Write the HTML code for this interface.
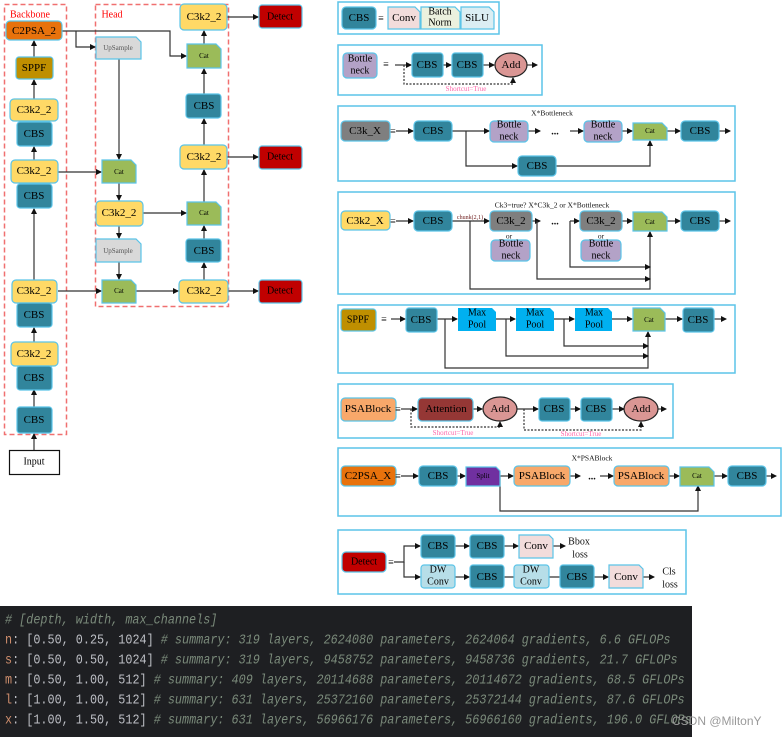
<!DOCTYPE html>
<html><head><meta charset="utf-8"><style>
html,body{margin:0;padding:0;background:#fff;width:782px;height:737px;overflow:hidden;position:relative}
svg{position:absolute;left:0;top:0}
svg text{font-family:"Liberation Serif",serif;text-anchor:middle;dominant-baseline:central}
.code{position:absolute;left:0;top:606px;width:692px;height:131px;background:#1e1f22;font-family:"Liberation Mono",monospace;font-size:11.8px;color:#bcbec4;white-space:pre}
.code div{position:absolute;left:5px;transform:scaleY(1.2);transform-origin:left center}
.c{color:#7a8a7a;font-style:italic}.k{color:#cf8e6d}
.wm{position:absolute;left:672px;top:714px;font-family:"Liberation Sans",sans-serif;font-size:12px;color:#9a9a9a}
</style></head><body>
<svg width="782" height="737" viewBox="0 0 782 737">
<defs><marker id="a" markerWidth="6" markerHeight="6" refX="5" refY="3" orient="auto" markerUnits="userSpaceOnUse"><path d="M0,0L6,3L0,6z" fill="#111"/></marker></defs>
<g fill="none" stroke-width="1.5" stroke-dasharray="5,3" stroke="#f07070">
<rect x="4.5" y="4.5" width="62" height="430"/><rect x="95.5" y="4.5" width="133" height="302"/></g>
<text x="30" y="15" fill="#f00" font-size="10">Backbone</text><text x="112" y="15" fill="#f00" font-size="10">Head</text>
<g stroke="#333" stroke-width="1.2" fill="none" marker-end="url(#a)">
<path d="M34,450V434"/><path d="M34,407V390"/><path d="M34,342V328"/><path d="M34,280V209"/><path d="M34,160V147"/><path d="M34,99V80"/><path d="M34,57V41"/>
<path d="M62,31H170V56H186"/><path d="M76,31V47H95"/><path d="M119,59V159"/><path d="M58,172H101"/><path d="M119,183V200"/><path d="M143,213H186"/><path d="M119,226V238"/><path d="M119,262V279"/><path d="M58,291H101"/><path d="M136,291H178"/>
<path d="M204,280V263"/><path d="M204,239V226"/><path d="M204,202V170"/><path d="M204,145V119"/><path d="M204,94V69"/><path d="M204,44V31"/>
<path d="M227,17H258"/><path d="M227,157H258"/><path d="M228,291H258"/>
</g>
<g stroke="#5bc4e8" stroke-width="1.2" font-size="11">
<rect x="6" y="21" width="56" height="19" rx="4" fill="#e8720c"/><text x="34" y="31" stroke="none">C2PSA_2</text>
<rect x="16" y="57" width="37" height="22" rx="3" fill="#bf8f00"/><text x="34" y="68" stroke="none">SPPF</text>
<rect x="10" y="99" width="48" height="22" rx="4" fill="#ffd966"/><text x="34" y="110" stroke="none">C3k2_2</text>
<rect x="17" y="122" width="35" height="24" rx="3" fill="#31859c"/><text x="34" y="134" stroke="none">CBS</text>
<rect x="11" y="160" width="47" height="23" rx="4" fill="#ffd966"/><text x="34" y="171" stroke="none">C3k2_2</text>
<rect x="17" y="184" width="35" height="24" rx="3" fill="#31859c"/><text x="34" y="196" stroke="none">CBS</text>
<rect x="12" y="280" width="45" height="23" rx="4" fill="#ffd966"/><text x="34" y="291" stroke="none">C3k2_2</text>
<rect x="17" y="303" width="35" height="24" rx="3" fill="#31859c"/><text x="34" y="315" stroke="none">CBS</text>
<rect x="11" y="342" width="47" height="24" rx="4" fill="#ffd966"/><text x="34" y="354" stroke="none">C3k2_2</text>
<rect x="17" y="366" width="35" height="24" rx="3" fill="#31859c"/><text x="34" y="378" stroke="none">CBS</text>
<rect x="17" y="407" width="35" height="26" rx="3" fill="#31859c"/><text x="34" y="420" stroke="none">CBS</text>
<rect x="9.5" y="450.5" width="50" height="24" fill="#fff" stroke="#111"/><text x="34" y="462" stroke="none" font-size="10">Input</text>
<polygon points="96,37 136,37 141,42 141,59 96,59" fill="#d9d9d9"/><text x="118" y="48" stroke="none" font-size="7" fill="#555">UpSample</text>
<polygon points="102,160 131,160 136,165 136,183 102,183" fill="#9bbb59"/><text x="119" y="172" stroke="none" font-size="7">Cat</text>
<rect x="96" y="201" width="47" height="25" rx="4" fill="#ffd966"/><text x="119" y="213" stroke="none">C3k2_2</text>
<polygon points="96,239 136,239 141,244 141,262 96,262" fill="#d9d9d9"/><text x="118" y="251" stroke="none" font-size="7" fill="#555">UpSample</text>
<polygon points="102,280 131,280 136,285 136,303 102,303" fill="#9bbb59"/><text x="119" y="291" stroke="none" font-size="7">Cat</text>
<rect x="179" y="280" width="49" height="23" rx="4" fill="#ffd966"/><text x="204" y="291" stroke="none">C3k2_2</text>
<rect x="186" y="239" width="35" height="23" rx="3" fill="#31859c"/><text x="204" y="251" stroke="none">CBS</text>
<polygon points="187,202 216,202 221,207 221,225 187,225" fill="#9bbb59"/><text x="204" y="213" stroke="none" font-size="7">Cat</text>
<rect x="180" y="145" width="47" height="24" rx="4" fill="#ffd966"/><text x="204" y="157" stroke="none">C3k2_2</text>
<rect x="186" y="94" width="35" height="24" rx="3" fill="#31859c"/><text x="204" y="106" stroke="none">CBS</text>
<polygon points="187,44 216,44 221,49 221,68 187,68" fill="#9bbb59"/><text x="204" y="56" stroke="none" font-size="7">Cat</text>
<rect x="180" y="4" width="47" height="26" rx="4" fill="#ffd966"/><text x="204" y="17" stroke="none">C3k2_2</text>
<rect x="259" y="5" width="43" height="23" rx="3" fill="#c00000"/><text x="280" y="17" stroke="none" font-size="10">Detect</text>
<rect x="259" y="146" width="43" height="23" rx="3" fill="#c00000"/><text x="280" y="157" stroke="none" font-size="10">Detect</text>
<rect x="259" y="280" width="43" height="23" rx="3" fill="#c00000"/><text x="280" y="291" stroke="none" font-size="10">Detect</text>
</g>
<g fill="none" stroke="#5bc4e8" stroke-width="1.5">
<rect x="338" y="2" width="161" height="32"/><rect x="338" y="45" width="204" height="50"/><rect x="338" y="106" width="397" height="75"/><rect x="338" y="192" width="397" height="102"/><rect x="338" y="305" width="397" height="68"/><rect x="338" y="384" width="335" height="54"/><rect x="338" y="448" width="443" height="68"/><rect x="338" y="530" width="348" height="64"/></g>
<g stroke="#333" stroke-width="1.2" fill="none">
<g marker-end="url(#a)">
<path d="M395,65H411"/><path d="M443,65H451"/><path d="M483,65H494"/><path d="M527,65H537"/>
<path d="M396,131H413"/><path d="M452,131H489"/><path d="M528,131H540"/><path d="M570,131H583"/><path d="M622,131H632"/><path d="M667,131H680"/><path d="M719,131H730"/><path d="M466,131V166H517"/><path d="M556,166H650V141"/>
<path d="M396,221H413"/><path d="M452,221H489"/><path d="M532,221H540"/><path d="M570,221H579"/><path d="M622,221H632"/><path d="M667,221H680"/><path d="M719,221H730"/><path d="M470,221V289H650V232"/><path d="M537,221V279H650"/><path d="M570,221V267H650"/>
<path d="M391,319H405"/><path d="M437,319H457"/><path d="M496,319H515"/><path d="M554,319H574"/><path d="M612,319H632"/><path d="M665,319H682"/><path d="M714,319H726"/><path d="M445,319V368H648V332"/><path d="M506,319V356H648"/><path d="M564,319V346H648"/>
<path d="M401,409H417"/><path d="M473,409H482"/><path d="M517,409H538"/><path d="M570,409H580"/><path d="M612,409H624"/><path d="M658,409H666"/>
<path d="M401,476H418"/><path d="M457,476H465"/><path d="M500,476H513"/><path d="M570,476H580"/><path d="M600,476H613"/><path d="M669,476H679"/><path d="M714,476H727"/><path d="M766,476H776"/><path d="M500,476V511H698V486"/>
<path d="M394,562H404V546H420"/><path d="M404,562V577H420"/><path d="M455,546H469"/><path d="M504,546H518"/><path d="M553,546H565"/><path d="M455,577H469"/><path d="M594,577H608"/><path d="M643,577H654"/>
</g>
<path d="M504,577H514M549,577H560"/>
<g stroke-dasharray="2,1.5" marker-end="url(#a)"><path d="M404,65V84H513V78"/><path d="M411,409V427H500V422"/><path d="M524,409V430H641V422"/></g>
</g>
<g stroke="#5bc4e8" stroke-width="1.2" font-size="11">
<rect x="342" y="7" width="34" height="22" rx="4" fill="#31859c"/><text x="359" y="18" stroke="none">CBS</text>
<polygon points="388,7 415,7 420,12 420,29 388,29" fill="#f2dcdb"/><text x="404" y="18" stroke="none">Conv</text>
<polygon points="421,7 455,7 460,12 460,29 421,29" fill="#ebf1de"/><text x="440" y="12" stroke="none" font-size="10">Batch</text><text x="440" y="23" stroke="none" font-size="10">Norm</text>
<polygon points="461,7 489,7 494,12 494,29 461,29" fill="#dbeef3"/><text x="477" y="18" stroke="none">SiLU</text>
<rect x="343" y="53" width="34" height="25" rx="4" fill="#b3a2c7"/><text x="360" y="59" stroke="none" font-size="10">Bottle</text><text x="360" y="71" stroke="none" font-size="10">neck</text>
<rect x="412" y="53" width="31" height="24" rx="3" fill="#31859c"/><text x="427" y="65" stroke="none">CBS</text>
<rect x="452" y="53" width="31" height="24" rx="3" fill="#31859c"/><text x="467" y="65" stroke="none">CBS</text>
<ellipse cx="511" cy="65" rx="16" ry="12" fill="#da9694" stroke="#222"/><text x="511" y="65" stroke="none">Add</text>
<rect x="341" y="121" width="49" height="20" rx="4" fill="#7f7f7f"/><text x="365" y="131" stroke="none">C3k_X</text>
<rect x="414" y="121" width="38" height="20" rx="4" fill="#31859c"/><text x="433" y="131" stroke="none">CBS</text>
<rect x="490" y="121" width="38" height="21" rx="4" fill="#b3a2c7"/><text x="509" y="125" stroke="none" font-size="10">Bottle</text><text x="509" y="137" stroke="none" font-size="10">neck</text>
<rect x="584" y="121" width="38" height="21" rx="4" fill="#b3a2c7"/><text x="603" y="125" stroke="none" font-size="10">Bottle</text><text x="603" y="137" stroke="none" font-size="10">neck</text>
<polygon points="633,123 662,123 667,128 667,140 633,140" fill="#9bbb59"/><text x="650" y="131" stroke="none" font-size="7">Cat</text>
<rect x="681" y="121" width="38" height="20" rx="4" fill="#31859c"/><text x="700" y="131" stroke="none">CBS</text>
<rect x="518" y="156" width="38" height="20" rx="4" fill="#31859c"/><text x="537" y="166" stroke="none">CBS</text>
<rect x="341" y="211" width="49" height="19" rx="4" fill="#ffd966"/><text x="365" y="221" stroke="none">C3k2_X</text>
<rect x="414" y="211" width="38" height="20" rx="4" fill="#31859c"/><text x="433" y="221" stroke="none">CBS</text>
<rect x="490" y="211" width="42" height="20" rx="4" fill="#7f7f7f"/><text x="511" y="221" stroke="none">C3k_2</text>
<rect x="491" y="240" width="39" height="21" rx="4" fill="#b3a2c7"/><text x="511" y="244" stroke="none" font-size="10">Bottle</text><text x="511" y="256" stroke="none" font-size="10">neck</text>
<rect x="580" y="211" width="42" height="20" rx="4" fill="#7f7f7f"/><text x="601" y="221" stroke="none">C3k_2</text>
<rect x="581" y="240" width="40" height="21" rx="4" fill="#b3a2c7"/><text x="601" y="244" stroke="none" font-size="10">Bottle</text><text x="601" y="256" stroke="none" font-size="10">neck</text>
<polygon points="633,212 662,212 667,217 667,231 633,231" fill="#9bbb59"/><text x="650" y="222" stroke="none" font-size="7">Cat</text>
<rect x="681" y="211" width="38" height="20" rx="4" fill="#31859c"/><text x="700" y="221" stroke="none">CBS</text>
<rect x="341" y="309" width="35" height="22" rx="3" fill="#bf8f00"/><text x="358" y="320" stroke="none" font-size="10">SPPF</text>
<rect x="406" y="308" width="31" height="24" rx="3" fill="#31859c"/><text x="421" y="320" stroke="none">CBS</text>
<polygon points="458,308 492,308 496,312 496,331 458,331" fill="#00b0f0" stroke="none"/><text x="477" y="313" stroke="none" font-size="10">Max</text><text x="477" y="325" stroke="none" font-size="10">Pool</text>
<polygon points="516,308 550,308 554,312 554,331 516,331" fill="#00b0f0" stroke="none"/><text x="535" y="313" stroke="none" font-size="10">Max</text><text x="535" y="325" stroke="none" font-size="10">Pool</text>
<polygon points="575,308 608,308 612,312 612,331 575,331" fill="#00b0f0" stroke="none"/><text x="594" y="313" stroke="none" font-size="10">Max</text><text x="594" y="325" stroke="none" font-size="10">Pool</text>
<polygon points="633,308 660,308 665,313 665,331 633,331" fill="#9bbb59"/><text x="649" y="320" stroke="none" font-size="7">Cat</text>
<rect x="683" y="308" width="31" height="24" rx="3" fill="#31859c"/><text x="698" y="320" stroke="none">CBS</text>
<rect x="341" y="398" width="55" height="23" rx="4" fill="#f8a86a"/><text x="368" y="409" stroke="none">PSABlock</text>
<rect x="418" y="398" width="55" height="23" rx="4" fill="#953735"/><text x="446" y="409" stroke="none">Attention</text>
<ellipse cx="500" cy="409" rx="17" ry="12" fill="#da9694" stroke="#222"/><text x="500" y="409" stroke="none">Add</text>
<rect x="539" y="398" width="31" height="23" rx="3" fill="#31859c"/><text x="554" y="409" stroke="none">CBS</text>
<rect x="581" y="398" width="31" height="23" rx="3" fill="#31859c"/><text x="596" y="409" stroke="none">CBS</text>
<ellipse cx="641" cy="409" rx="17" ry="12" fill="#da9694" stroke="#222"/><text x="641" y="409" stroke="none">Add</text>
<rect x="341" y="466" width="55" height="20" rx="4" fill="#e8720c"/><text x="368" y="476" stroke="none">C2PSA_X</text>
<rect x="419" y="466" width="38" height="20" rx="4" fill="#31859c"/><text x="438" y="476" stroke="none">CBS</text>
<polygon points="466,467 496,467 500,471 500,486 466,486" fill="#7030a0"/><text x="483" y="476" stroke="none" font-size="7">Split</text>
<rect x="514" y="466" width="56" height="20" rx="4" fill="#f8a86a"/><text x="542" y="476" stroke="none">PSABlock</text>
<rect x="614" y="466" width="55" height="20" rx="4" fill="#f8a86a"/><text x="641" y="476" stroke="none">PSABlock</text>
<polygon points="680,467 709,467 714,472 714,486 680,486" fill="#9bbb59"/><text x="697" y="476" stroke="none" font-size="7">Cat</text>
<rect x="728" y="466" width="38" height="20" rx="4" fill="#31859c"/><text x="747" y="476" stroke="none">CBS</text>
<rect x="342" y="552" width="44" height="20" rx="4" fill="#c00000"/><text x="364" y="562" stroke="none" font-size="10">Detect</text>
<rect x="421" y="535" width="34" height="23" rx="3" fill="#31859c"/><text x="438" y="546" stroke="none">CBS</text>
<rect x="470" y="535" width="34" height="23" rx="3" fill="#31859c"/><text x="487" y="546" stroke="none">CBS</text>
<polygon points="519,535 549,535 553,539 553,558 519,558" fill="#f2dcdb"/><text x="536" y="546" stroke="none">Conv</text>
<rect x="421" y="565" width="34" height="23" rx="3" fill="#b7dee8"/><text x="438" y="570" stroke="none" font-size="10">DW</text><text x="438" y="582" stroke="none" font-size="10">Conv</text>
<rect x="470" y="565" width="34" height="23" rx="3" fill="#31859c"/><text x="487" y="577" stroke="none">CBS</text>
<rect x="514" y="565" width="35" height="23" rx="3" fill="#b7dee8"/><text x="531" y="570" stroke="none" font-size="10">DW</text><text x="531" y="582" stroke="none" font-size="10">Conv</text>
<rect x="560" y="565" width="34" height="23" rx="3" fill="#31859c"/><text x="577" y="577" stroke="none">CBS</text>
<polygon points="609,565 639,565 643,569 643,588 609,588" fill="#f2dcdb"/><text x="626" y="577" stroke="none">Conv</text>
</g>
<g font-size="10" fill="#111">
<text x="579" y="542">Bbox</text><text x="580" y="555">loss</text><text x="669" y="572">Cls</text><text x="670" y="585">loss</text>
<text x="555" y="132" font-weight="bold">...</text><text x="555" y="222" font-weight="bold">...</text><text x="592" y="477" font-weight="bold">...</text>
<text x="552" y="113" font-size="7.5">X*Bottleneck</text><text x="592" y="458" font-size="7.5">X*PSABlock</text>
<text x="552" y="205" font-size="7.5">Ck3=true?   X*C3k_2  or  X*Bottleneck</text>
<text x="470" y="218" font-size="6" fill="#702020">chunk(2,1)</text>
<text x="509" y="236" font-size="7.5">or</text><text x="601" y="236" font-size="7.5">or</text>
<text x="466" y="89" font-size="7" fill="#ff66aa">Shortcut=True</text><text x="453" y="433" font-size="7" fill="#ff66aa">Shortcut=True</text><text x="581" y="434" font-size="7" fill="#ff66aa">Shortcut=True</text>
<text x="381" y="19" font-size="10">≡</text><text x="386" y="65" font-size="10">≡</text><text x="393" y="132" font-size="10">≡</text><text x="393" y="222" font-size="10">≡</text><text x="384" y="320" font-size="10">≡</text><text x="398" y="410" font-size="10">≡</text><text x="398" y="477" font-size="10">≡</text><text x="391" y="563" font-size="10">≡</text>
</g>
</svg>
<div class="code">
<div style="top:7px" class="c"># [depth, width, max_channels]</div>
<div style="top:27px"><span class="k">n</span>: [0.50, 0.25, 1024] <span class="c"># summary: 319 layers, 2624080 parameters, 2624064 gradients, 6.6 GFLOPs</span></div>
<div style="top:47px"><span class="k">s</span>: [0.50, 0.50, 1024] <span class="c"># summary: 319 layers, 9458752 parameters, 9458736 gradients, 21.7 GFLOPs</span></div>
<div style="top:67px"><span class="k">m</span>: [0.50, 1.00, 512] <span class="c"># summary: 409 layers, 20114688 parameters, 20114672 gradients, 68.5 GFLOPs</span></div>
<div style="top:87px"><span class="k">l</span>: [1.00, 1.00, 512] <span class="c"># summary: 631 layers, 25372160 parameters, 25372144 gradients, 87.6 GFLOPs</span></div>
<div style="top:107px"><span class="k">x</span>: [1.00, 1.50, 512] <span class="c"># summary: 631 layers, 56966176 parameters, 56966160 gradients, 196.0 GFLOPs</span></div>
</div>
<div class="wm">CSDN @MiltonY</div>
</body></html>
